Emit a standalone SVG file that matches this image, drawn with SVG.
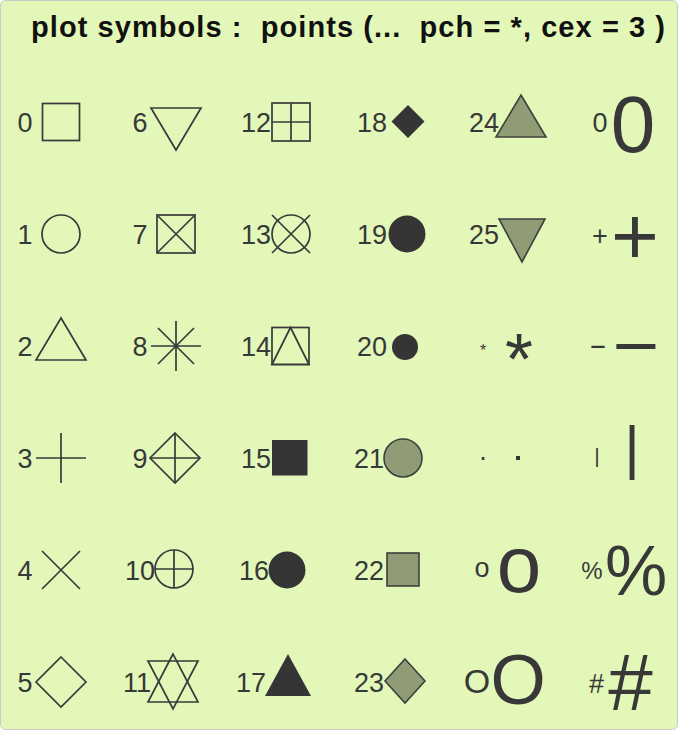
<svg xmlns="http://www.w3.org/2000/svg" width="678" height="730" viewBox="0 0 678 730">
<style>
.lab{font-family:"Liberation Sans",Arial,sans-serif;font-size:27px;fill:#383838;text-anchor:middle}
.big{font-family:"Liberation Sans",Arial,sans-serif;fill:#383838;text-anchor:middle}
.o{fill:none;stroke:#3a3a3a;stroke-width:1.7;stroke-linejoin:miter}
.f{fill:#353535;stroke:none}
.g{fill:#909c75;stroke:#3f3f3f;stroke-width:1.6}
.title{font-family:"Liberation Sans",Arial,sans-serif;font-weight:bold;font-size:29px;fill:#111;white-space:pre}
</style>
<rect x="0.5" y="0.5" width="677" height="729" rx="5" fill="#e3f8b8" stroke="#c9c9c9" stroke-width="1"/>
<g id="title"><text class="title" x="31" y="37" textLength="634" xml:space="preserve">plot symbols :  points (...  pch = *, cex = 3 )</text></g>
<g id="connectors"/>
<!-- column 0 -->
<g id="pch0"><text class="lab" x="25" y="132">0</text><rect class="o" x="42.5" y="103.5" width="37" height="37"/></g>
<g id="pch1"><text class="lab" x="25" y="244">1</text><circle class="o" cx="61" cy="234" r="19"/></g>
<g id="pch2"><text class="lab" x="25" y="356">2</text><polygon class="o" points="61,318 36,360 86,360"/></g>
<g id="pch3"><text class="lab" x="25" y="468">3</text><path class="o" d="M36,458H86M61,433V483"/></g>
<g id="pch4"><text class="lab" x="25" y="580">4</text><path class="o" d="M42,551L80,589M42,589L80,551"/></g>
<g id="pch5"><text class="lab" x="25" y="692">5</text><polygon class="o" points="61,657 86,682 61,707 36,682"/></g>
<!-- column 1 -->
<g id="pch6"><text class="lab" x="140" y="132">6</text><polygon class="o" points="151,108 201,108 176,150"/></g>
<g id="pch7"><text class="lab" x="140" y="244">7</text><rect class="o" x="157" y="215" width="38" height="38"/><path class="o" d="M157,215L195,253M157,253L195,215"/></g>
<g id="pch8"><text class="lab" x="140" y="356">8</text><path class="o" d="M151,346H201M176,321V371M158,328L194,364M158,364L194,328"/></g>
<g id="pch9"><text class="lab" x="140" y="468">9</text><polygon class="o" points="175,433 200,458 175,483 150,458"/><path class="o" d="M150,458H200M175,433V483"/></g>
<g id="pch10"><text class="lab" x="140" y="580">10</text><circle class="o" cx="174" cy="569" r="19"/><path class="o" d="M155,569H193M174,550V588"/></g>
<g id="pch11"><text class="lab" x="137" y="692">11</text><polygon class="o" points="173,654 148,702 198,702"/><polygon class="o" points="148,661 198,661 173,709"/></g>
<!-- column 2 -->
<g id="pch12"><text class="lab" x="256" y="132">12</text><rect class="o" x="272" y="103" width="38" height="38"/><path class="o" d="M272,122H310M291,103V141"/></g>
<g id="pch13"><text class="lab" x="256" y="244">13</text><circle class="o" cx="291" cy="234" r="19"/><path class="o" d="M272,215L310,253M272,253L310,215"/></g>
<g id="pch14"><text class="lab" x="256" y="356">14</text><rect class="o" x="272" y="327.5" width="37" height="37"/><polygon class="o" points="290.5,327.5 272,364.5 309,364.5"/></g>
<g id="pch15"><text class="lab" x="256" y="468">15</text><rect class="f" x="272" y="440" width="35.5" height="35.5"/></g>
<g id="pch16"><text class="lab" x="254" y="580">16</text><circle class="f" cx="287" cy="570" r="18.5"/></g>
<g id="pch17"><text class="lab" x="251" y="692">17</text><polygon class="f" points="288,654 265,696 311,696"/></g>
<!-- column 3 -->
<g id="pch18"><text class="lab" x="372" y="132">18</text><polygon class="f" points="408,105 424.5,121.5 408,138 391.5,121.5"/></g>
<g id="pch19"><text class="lab" x="372" y="244">19</text><circle class="f" cx="407" cy="234" r="18.5"/></g>
<g id="pch20"><text class="lab" x="372" y="356">20</text><circle class="f" cx="405" cy="347" r="13"/></g>
<g id="pch21"><text class="lab" x="369" y="468">21</text><circle class="g" cx="403" cy="458" r="19"/></g>
<g id="pch22"><text class="lab" x="369" y="580">22</text><rect class="g" x="387" y="553" width="32" height="33"/></g>
<g id="pch23"><text class="lab" x="369" y="692">23</text><polygon class="g" points="405,659 425,681 405,703 385,681"/></g>
<!-- column 4 -->
<g id="pch24"><text class="lab" x="484" y="132">24</text><polygon class="g" points="521,95 546,137 496,137"/></g>
<g id="pch25"><text class="lab" x="484" y="244">25</text><polygon class="g" points="499,219 545,219 522,262"/></g>
<g id="pch-star"><text class="big" x="483" y="356" font-size="16">*</text><text class="big" x="519" y="384" font-size="72">*</text></g>
<g id="pch-dot"><text class="big" x="483" y="460" font-size="27">.</text><rect class="f" x="516" y="456" width="4" height="4"/></g>
<g id="pch-o"><text class="big" x="482" y="577" font-size="27">o</text><text class="big" x="519" y="592" font-size="80">o</text></g>
<g id="pch-O"><text class="big" x="477" y="693" font-size="34">O</text><text class="big" x="518" y="704" font-size="71">O</text></g>
<!-- column 5 -->
<g id="pch-0"><text class="big" x="600" y="132" font-size="27">0</text><text class="big" x="633" y="152" font-size="80">0</text></g>
<g id="pch-plus"><text class="big" x="600" y="244.5" font-size="27">+</text><text class="big" x="635" y="264" font-size="82">+</text></g>
<g id="pch-minus"><text class="big" font-size="27" transform="translate(598,353.5) scale(2,1)">-</text><text class="big" font-size="64" transform="translate(636,363.5) scale(2.5,1)">-</text></g>
<g id="pch-bar"><text class="big" x="597" y="462.5" font-size="21">|</text><text class="big" x="632" y="467.5" font-size="60">|</text></g>
<g id="pch-pct"><text class="big" x="592" y="579" font-size="24">%</text><text class="big" x="636" y="595" font-size="70">%</text></g>
<g id="pch-hash"><text class="big" x="596.5" y="693" font-size="27">#</text><text class="big" x="630.5" y="710" font-size="80">#</text></g>
</svg>
